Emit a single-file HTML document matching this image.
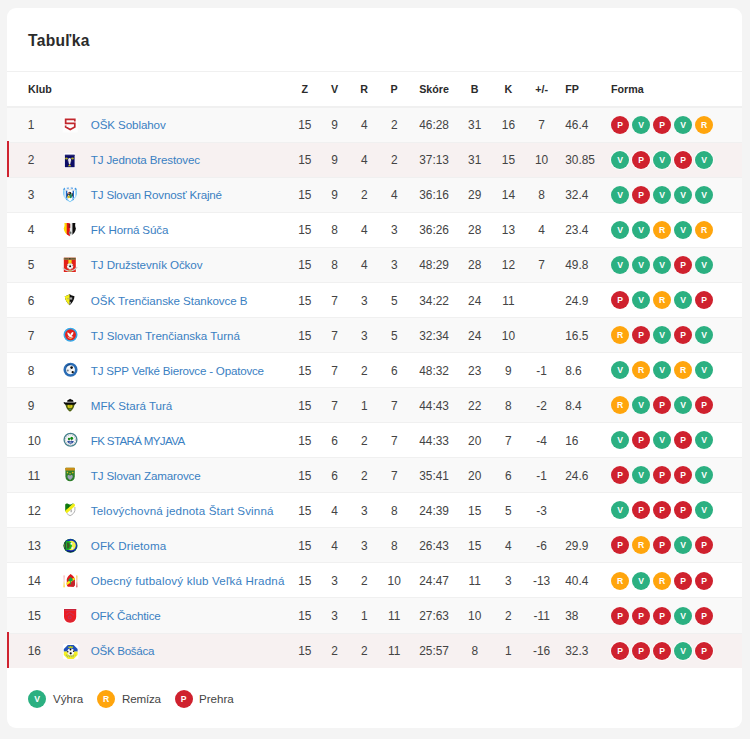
<!DOCTYPE html>
<html lang="sk">
<head>
<meta charset="utf-8">
<title>Tabuľka</title>
<style>
html,body{margin:0;padding:0}
body{width:750px;height:739px;background:#f4f4f4;font-family:"Liberation Sans",sans-serif;color:#444;position:relative;overflow:hidden}
.card{position:absolute;left:7px;top:8px;width:735px;height:720px;background:#fff;border-radius:9px}
.title{position:absolute;left:21px;top:22.6px;margin:0;font-size:15.6px;letter-spacing:.32px;line-height:20px;font-weight:bold;color:#2b2b2b}
.thead{position:absolute;left:0;top:63px;width:735px;height:34px;border-top:1px solid #f0f0f0;border-bottom:1px solid #f0f0f0;font-weight:bold;font-size:10.7px;color:#2b2b2b;box-sizing:content-box}
.thead .c{line-height:35px;top:0}
.row{position:absolute;left:0;width:735px;font-size:11.6px;box-sizing:border-box;border-top:1px solid #f0f0f0}
.row.odd{background:#f9f9f9}
.row.hl{background:#f7f1f1}
.row.hl::before{content:"";position:absolute;left:0;top:-1.5px;bottom:-.6px;width:2px;background:#cf2330}
.row{top:0}
.c{position:absolute;top:0.7px;line-height:34.06px;white-space:nowrap}
.row .z,.row .v,.row .r,.row .p,.row .b,.row .k,.row .pm,.row .sk,.row .fp{font-size:11.9px}
.rank{left:21px}
.row .rank{font-size:11.9px;left:20.7px}
.crest{position:absolute;left:55px;top:9.2px;width:16px;height:16px}
.crest svg{display:block}
.name{left:83.8px;color:#3a80c2;text-decoration:none}
.z,.v,.r,.p,.b,.k,.pm{width:40px;text-align:center}
.z{left:277.8px}.v{left:307.5px}.r{left:337.2px}.p{left:367.2px}
.sk{left:412.2px}
.b{left:447.7px}.k{left:481.4px}.pm{left:514.6px}
.fp{left:558.2px}
.thead .fo{left:604px}
.row .fo{position:absolute;left:604px;top:8.1px;height:18px;white-space:nowrap;font-size:0}
.row.hl .f{box-shadow:0 0 0 1px rgba(255,255,255,.75)}
.f{display:inline-block;width:18px;height:18px;border-radius:50%;margin-right:3px;color:#fff;font-style:normal;font-weight:bold;font-size:8.6px;line-height:18.7px;text-align:center;vertical-align:top}
.f.fv{background:#2bb081}.f.fp2{background:#cf212e}.f.fr{background:#ffa50d}
.legend{position:absolute;left:0;top:680.5px;width:735px;height:20px;font-size:11.6px;line-height:20px}
.legend .f{position:absolute;top:1px;margin:0}
.legend span{position:absolute;top:0}
.legend .f.fv{left:21px}.legend .l1{left:46px}
.legend .f.fr{left:90px}.legend .l2{left:115px;letter-spacing:-.2px}
.legend .f.fp2{left:167.6px}.legend .l3{left:192px}
</style>
</head>
<body>
<div class="card">
<h2 class="title">Tabuľka</h2>
<div class="thead"><span class="c rank">Klub</span><span class="c z">Z</span><span class="c v">V</span><span class="c r">R</span><span class="c p">P</span><span class="c sk">Skóre</span><span class="c b">B</span><span class="c k">K</span><span class="c pm">+/-</span><span class="c fp">FP</span><span class="c fo">Forma</span></div>
<div class="row odd" style="top:98.50px;height:35.07px"><span class="c rank">1</span><span class="crest"><svg viewBox="0 0 16 16" width="16" height="16" overflow="visible"><rect x=".6" y=".3" width="15.2" height="15.2" fill="#fdfdfd"/><path d="M12.8 4.5V2.35H3.65V6.4H12.8V10.1L8.2 12.5L3.65 10.1V8.5" fill="none" stroke="#c1272d" stroke-width="1.7"/></svg></span><a class="c name" style="letter-spacing:-0.1px">OŠK Soblahov</a><span class="c z">15</span><span class="c v">9</span><span class="c r">4</span><span class="c p">2</span><span class="c sk">46:28</span><span class="c b">31</span><span class="c k">16</span><span class="c pm">7</span><span class="c fp">46.4</span><span class="fo"><i class="f fp2">P</i><i class="f fv">V</i><i class="f fp2">P</i><i class="f fv">V</i><i class="f fr">R</i></span></div>
<div class="row hl" style="top:133.57px;height:35.07px"><span class="c rank">2</span><span class="crest"><svg viewBox="0 0 16 16" width="16" height="16" overflow="visible"><rect x="2.2" y="1.1" width="10.8" height="14.9" fill="#fff"/><rect x="2.9" y="2.8" width="9.7" height="12.4" fill="#0c0c66"/><rect x="2.9" y="2.8" width="9.7" height="1" fill="#2a2a78"/><ellipse cx="4.5" cy="6.6" rx="1.4" ry="1" fill="#b4b022"/><ellipse cx="10.5" cy="6.6" rx="1.4" ry="1" fill="#b4b022"/><path d="M7.6 6C9 6 9.4 7.6 8.9 9.2L8.2 12.3H7L6.3 9.2C5.8 7.6 6.2 6 7.6 6Z" fill="#e6e6ec"/><path d="M5 8.4L6.4 9.6M10.2 8.4L8.8 9.6" stroke="#6a6a4a" stroke-width=".5"/><path d="M7.6 12.2L9.3 14.3H5.9Z" fill="#cfc91c"/></svg></span><a class="c name" style="letter-spacing:-0.15px">TJ Jednota Brestovec</a><span class="c z">15</span><span class="c v">9</span><span class="c r">4</span><span class="c p">2</span><span class="c sk">37:13</span><span class="c b">31</span><span class="c k">15</span><span class="c pm">10</span><span class="c fp">30.85</span><span class="fo"><i class="f fv">V</i><i class="f fp2">P</i><i class="f fv">V</i><i class="f fp2">P</i><i class="f fv">V</i></span></div>
<div class="row odd" style="top:168.64px;height:35.07px"><span class="c rank">3</span><span class="crest"><svg viewBox="0 0 16 16" width="16" height="16" overflow="visible"><defs><clipPath id="c3"><path d="M2.2 0.6H13.8C14.8 2.4 15.2 5 14.8 7.6C14.2 11 11.8 13.8 8 15.2C4.2 13.8 1.8 11 1.2 7.6C0.8 5 1.2 2.4 2.2 0.6Z"/></clipPath></defs><g clip-path="url(#c3)"><rect width="16" height="16" fill="#fff"/><rect x="1" y="0" width="1.6" height="16" fill="#7ecbf4"/><rect x="13.4" y="0" width="1.6" height="16" fill="#7ecbf4"/><rect x="3.8" y="3.6" width="1.5" height="12" fill="#1b63c8"/><rect x="10.6" y="3.6" width="1.4" height="12" fill="#1b63c8"/><path d="M1 2.6C5 0.2 11 0.2 15 2.6" fill="none" stroke="#3d8fe0" stroke-width="1.4" stroke-dasharray="2.4 1.6"/><path d="M3 3.4C6 2.4 10 2.4 13 3.4" fill="none" stroke="#c8c8c8" stroke-width=".7"/><path d="M3.4 10.5L8 15.4L12.6 10.5" fill="none" stroke="#7ecbf4" stroke-width="1.2"/></g><ellipse cx="7.7" cy="6.6" rx="1.7" ry="1.9" fill="#1c1c1c"/><circle cx="6.8" cy="6.2" r=".9" fill="#e48a7a"/><ellipse cx="8.6" cy="9" rx="1.4" ry="2.2" fill="#1f8a5c"/><circle cx="6.6" cy="10" r="1.3" fill="#dcc01e"/><rect x="5.2" y="6.4" width=".9" height="3" fill="#222"/><rect x="9.9" y="6.2" width=".9" height="3.2" fill="#222"/></svg></span><a class="c name" style="letter-spacing:-0.17px">TJ Slovan Rovnosť Krajné</a><span class="c z">15</span><span class="c v">9</span><span class="c r">2</span><span class="c p">4</span><span class="c sk">36:16</span><span class="c b">29</span><span class="c k">14</span><span class="c pm">8</span><span class="c fp">32.4</span><span class="fo"><i class="f fv">V</i><i class="f fp2">P</i><i class="f fv">V</i><i class="f fv">V</i><i class="f fv">V</i></span></div>
<div class="row" style="top:203.71px;height:35.07px"><span class="c rank">4</span><span class="crest"><svg viewBox="0 0 16 16" width="16" height="16" overflow="visible"><defs><clipPath id="c4"><path d="M2.4 1L5.6 0.9L8.2 1.3L10.6 0.9L13.4 1.1C13 3 13 4.4 13.9 6.4C13.6 9.6 11.6 12.4 7.8 14.2C4 12.4 2 9.6 1.7 6.4C2.6 4.4 2.7 3 2.4 1Z"/></clipPath></defs><g clip-path="url(#c4)"><rect width="16" height="16" fill="#fff"/><rect x="0" y="0" width="4.6" height="16" fill="#ffd900"/><rect x="4.2" y="0" width="1" height="16" fill="#f58a00"/><rect x="5" y="0" width="2.9" height="16" fill="#e01212"/><rect x="7.9" y="0" width="2.5" height="16" fill="#e4e4e4"/><rect x="10.4" y="0" width="4" height="16" fill="#0c0c0c"/><rect x="6.6" y="2" width="1.6" height="4" fill="#8c1c1c"/><circle cx="8.2" cy="10.8" r="1.5" fill="#8c9490"/><circle cx="8.2" cy="10.8" r=".7" fill="#555"/></g></svg></span><a class="c name" style="letter-spacing:-0.14px">FK Horná Súča</a><span class="c z">15</span><span class="c v">8</span><span class="c r">4</span><span class="c p">3</span><span class="c sk">36:26</span><span class="c b">28</span><span class="c k">13</span><span class="c pm">4</span><span class="c fp">23.4</span><span class="fo"><i class="f fv">V</i><i class="f fv">V</i><i class="f fr">R</i><i class="f fv">V</i><i class="f fr">R</i></span></div>
<div class="row odd" style="top:238.78px;height:35.07px"><span class="c rank">5</span><span class="crest"><svg viewBox="0 0 16 16" width="16" height="16" overflow="visible"><rect x="1" y="0" width="14" height="16" fill="#fff"/><rect x="1.8" y="0.7" width="12" height="14.3" fill="#e2211b"/><rect x="1.8" y="0.7" width="12" height="2.1" fill="#9a8a52"/><rect x="2.4" y="1.2" width="4.2" height="1.1" fill="#5e5230"/><rect x="9.2" y="1.2" width="4.2" height="1.1" fill="#5e5230"/><circle cx="7.9" cy="1.8" r=".8" fill="#221a12"/><rect x="6.4" y="3" width="3.2" height="4" fill="#f7d417"/><path d="M0.8 10.6C3 13.2 5.6 14 8 14C10.4 14 13 12.8 15.2 10.2" fill="none" stroke="#cfcfcf" stroke-width="1.3"/><circle cx="8.1" cy="9.3" r="3.1" fill="#f4f4f4"/><circle cx="8.1" cy="9.3" r="1" fill="#0a0a0a"/><path d="M8.1 6.2V7.4M5.2 8.4L6.3 8.8M11 8.4L9.9 8.8M6.3 11.8L7 10.9M9.9 11.8L9.2 10.9" stroke="#666" stroke-width=".6"/><rect x="6.2" y="13.4" width="3.8" height="1.2" fill="#b9a24a"/></svg></span><a class="c name" style="letter-spacing:-0.09px">TJ Družstevník Očkov</a><span class="c z">15</span><span class="c v">8</span><span class="c r">4</span><span class="c p">3</span><span class="c sk">48:29</span><span class="c b">28</span><span class="c k">12</span><span class="c pm">7</span><span class="c fp">49.8</span><span class="fo"><i class="f fv">V</i><i class="f fv">V</i><i class="f fv">V</i><i class="f fp2">P</i><i class="f fv">V</i></span></div>
<div class="row" style="top:273.85px;height:35.07px"><span class="c rank">6</span><span class="crest"><svg viewBox="0 0 16 16" width="16" height="16" overflow="visible"><defs><clipPath id="c6"><path d="M7.6 2L9.2 3.2L12.5 4.2C12.3 7.6 10.6 10.8 7.7 13.2C4.8 10.8 3 7.6 2.8 4.2L6 3.2Z"/></clipPath></defs><g clip-path="url(#c6)"><rect width="16" height="16" fill="#111"/><rect x="0" y="0" width="7.6" height="16" fill="#f4ef18"/><rect x="7.6" y="5.4" width="2.6" height="2.2" fill="#a9a9a9"/><rect x="5" y="6.2" width="2.6" height="1" fill="#b9b560"/><rect x="7.2" y="9.8" width="1.8" height="1.8" fill="#9c9c9c"/></g></svg></span><a class="c name" style="letter-spacing:-0.07px">OŠK Trenčianske Stankovce B</a><span class="c z">15</span><span class="c v">7</span><span class="c r">3</span><span class="c p">5</span><span class="c sk">34:22</span><span class="c b">24</span><span class="c k">11</span><span class="c pm"></span><span class="c fp">24.9</span><span class="fo"><i class="f fp2">P</i><i class="f fv">V</i><i class="f fr">R</i><i class="f fv">V</i><i class="f fp2">P</i></span></div>
<div class="row odd" style="top:308.92px;height:35.07px"><span class="c rank">7</span><span class="crest"><svg viewBox="0 0 16 16" width="16" height="16" overflow="visible"><circle cx="8.5" cy="7.8" r="7.7" fill="#fff"/><circle cx="8.5" cy="7.8" r="6.25" fill="#e2201a" stroke="#37a9e8" stroke-width="1.6"/><g transform="translate(.4 -.1)"><path d="M4.9 5.6C6.2 5.4 7.4 6.6 7.9 8.2C8.2 6.4 9.4 5 10.9 5.2C11.2 6.8 10.3 8.4 9 9.2L11.2 10.1C10.2 11 8.6 10.8 7.6 10.2C6 9.6 5 7.6 4.9 5.6Z" fill="#fafafa"/><path d="M5.4 10.2C6.4 11.2 8 11.6 9.4 11" fill="none" stroke="#f5d6d6" stroke-width=".9"/><circle cx="8.2" cy="11.6" r=".7" fill="#e8c41c"/></g></svg></span><a class="c name" style="letter-spacing:-0.04px">TJ Slovan Trenčianska Turná</a><span class="c z">15</span><span class="c v">7</span><span class="c r">3</span><span class="c p">5</span><span class="c sk">32:34</span><span class="c b">24</span><span class="c k">10</span><span class="c pm"></span><span class="c fp">16.5</span><span class="fo"><i class="f fr">R</i><i class="f fp2">P</i><i class="f fv">V</i><i class="f fp2">P</i><i class="f fv">V</i></span></div>
<div class="row" style="top:343.99px;height:35.07px"><span class="c rank">8</span><span class="crest"><svg viewBox="0 0 16 16" width="16" height="16" overflow="visible"><circle cx="8.5" cy="7.75" r="7.6" fill="#fff"/><circle cx="8.5" cy="7.75" r="5.75" fill="#f6f6f6" stroke="#2a6cb4" stroke-width="2.6"/><g transform="translate(.3 -.1)"><circle cx="9.3" cy="5.7" r="1.3" fill="#0b0b0b"/><circle cx="10.4" cy="10.3" r="1.15" fill="#0b0b0b"/><circle cx="5.5" cy="8.6" r="1" fill="#7d8288"/><path d="M3.9 4.6C5 3.2 6.6 2.6 8 2.6" fill="none" stroke="#123a6e" stroke-width=".9"/><circle cx="8" cy="8" r=".7" fill="#d4d4d4"/></g></svg></span><a class="c name" style="letter-spacing:-0.21px">TJ SPP Veľké Bierovce - Opatovce</a><span class="c z">15</span><span class="c v">7</span><span class="c r">2</span><span class="c p">6</span><span class="c sk">48:32</span><span class="c b">23</span><span class="c k">9</span><span class="c pm">-1</span><span class="c fp">8.6</span><span class="fo"><i class="f fv">V</i><i class="f fr">R</i><i class="f fv">V</i><i class="f fr">R</i><i class="f fv">V</i></span></div>
<div class="row odd" style="top:379.06px;height:35.07px"><span class="c rank">9</span><span class="crest"><svg viewBox="0 0 16 16" width="16" height="16" overflow="visible"><path d="M8 0.4L12.8 2.8L14.8 6.6L12.8 9.4L8 15.8L3.2 9.4L1.2 6.6L3.2 2.8Z" fill="#fff"/><path d="M3.3 6.4H12.7C12.5 9.8 10.8 12.8 8 14.8C5.2 12.8 3.5 9.8 3.3 6.4Z" fill="#4e5e0e"/><path d="M5.6 7.5H10.4V9.8C10.4 10.7 9.3 11.2 8 11.2C6.7 11.2 5.6 10.7 5.6 9.8Z" fill="#dacf1a"/><rect x="7.7" y="7.8" width=".6" height="2.8" fill="#7d7a18"/><rect x="6.8" y="11.8" width="2.4" height=".9" fill="#4f8a6a"/><path d="M5.2 4.7C5 3.3 6.2 2.5 7.2 2.5C7.5 1.6 8.7 1.6 9 2.5C10.4 2.3 11.7 3.3 11.5 4.8Z" fill="#0a0a0a"/><path d="M2 5.1C1.8 6.4 2.7 7.5 4.1 7.6H11.9C13.3 7.5 14.2 6.4 14 5.1C13.7 5.8 12.9 5.8 11.9 5.7H4.1C3.1 5.8 2.3 5.8 2 5.1Z" fill="#0a0a0a" stroke="#0a0a0a" stroke-width=".5"/></svg></span><a class="c name" style="letter-spacing:-0.03px">MFK Stará Turá</a><span class="c z">15</span><span class="c v">7</span><span class="c r">1</span><span class="c p">7</span><span class="c sk">44:43</span><span class="c b">22</span><span class="c k">8</span><span class="c pm">-2</span><span class="c fp">8.4</span><span class="fo"><i class="f fr">R</i><i class="f fv">V</i><i class="f fp2">P</i><i class="f fv">V</i><i class="f fp2">P</i></span></div>
<div class="row" style="top:414.13px;height:35.07px"><span class="c rank">10</span><span class="crest"><svg viewBox="0 0 16 16" width="16" height="16" overflow="visible"><circle cx="8.5" cy="7.8" r="7.6" fill="#fff"/><circle cx="8.5" cy="7.8" r="6.4" fill="#fff" stroke="#447f8b" stroke-width="1.3"/><circle cx="8.5" cy="7.8" r="4.9" fill="none" stroke="#bfc6ca" stroke-width="1.3" stroke-dasharray="1.4 .8"/><circle cx="8.5" cy="7.8" r="4.1" fill="#f3f4fa"/><circle cx="7" cy="7" r="1.15" fill="#148a14"/><ellipse cx="9.7" cy="6.3" rx="1.4" ry="1.6" fill="#0f8a10"/><rect x="6.8" y="7.6" width=".5" height="1.2" fill="#555"/><rect x="9.5" y="7.4" width=".5" height="1.4" fill="#555"/><path d="M5.2 9.1H11.8C11.4 10.9 10.2 11.8 8.5 11.8C6.8 11.8 5.6 10.9 5.2 9.1Z" fill="#2c4c9c"/><rect x="7.3" y="9.7" width="2.2" height=".9" rx=".4" fill="#f0f0f0"/></svg></span><a class="c name" style="letter-spacing:-0.67px">FK STARÁ MYJAVA</a><span class="c z">15</span><span class="c v">6</span><span class="c r">2</span><span class="c p">7</span><span class="c sk">44:33</span><span class="c b">20</span><span class="c k">7</span><span class="c pm">-4</span><span class="c fp">16</span><span class="fo"><i class="f fv">V</i><i class="f fp2">P</i><i class="f fv">V</i><i class="f fp2">P</i><i class="f fv">V</i></span></div>
<div class="row odd" style="top:449.20px;height:35.07px"><span class="c rank">11</span><span class="crest"><svg viewBox="0 0 16 16" width="16" height="16" overflow="visible"><path d="M2.6 0H13.6V9.6C13.6 13 11 15.2 8.1 15.2C5.2 15.2 2.6 13 2.6 9.6Z" fill="#fff"/><path d="M3.4 1.2Q3.4 0.7 3.9 0.7H12.3Q12.8 0.7 12.8 1.2V9.4C12.8 12.2 10.8 14.2 8.1 14.2C5.4 14.2 3.4 12.2 3.4 9.4Z" fill="#2f7e2c"/><path d="M3.4 1.2Q3.4 0.7 3.9 0.7H12.3Q12.8 0.7 12.8 1.2V3.4H3.4Z" fill="#d9991c"/><rect x="3.8" y="1.6" width="8.6" height=".8" fill="#a87410" opacity=".7"/><path d="M8.1 13C6.1 11.7 5.3 10.4 5.5 9.2C5.7 8 7.2 7.7 8.1 8.8C9 7.7 10.5 8 10.7 9.2C10.9 10.4 10.1 11.7 8.1 13Z" fill="#9ca4b9"/><rect x="4.8" y="4.8" width="1.3" height="1.5" fill="#d8c428"/><path d="M9.6 5.6L10.7 4.7L11.8 5.6L10.7 6.5Z" fill="#e8b41c"/><rect x="7.4" y="6" width="1.3" height="1.3" fill="#c9a624"/></svg></span><a class="c name" style="letter-spacing:-0.16px">TJ Slovan Zamarovce</a><span class="c z">15</span><span class="c v">6</span><span class="c r">2</span><span class="c p">7</span><span class="c sk">35:41</span><span class="c b">20</span><span class="c k">6</span><span class="c pm">-1</span><span class="c fp">24.6</span><span class="fo"><i class="f fp2">P</i><i class="f fv">V</i><i class="f fp2">P</i><i class="f fp2">P</i><i class="f fv">V</i></span></div>
<div class="row" style="top:484.27px;height:35.07px"><span class="c rank">12</span><span class="crest"><svg viewBox="0 0 16 16" width="16" height="16" overflow="visible"><defs><clipPath id="c12"><path d="M3.2 2.4C3.8 1.4 5 1.2 6 1.8C7 2.6 8.8 2.6 10 1.9C11 1.3 12.2 1.4 12.9 2.4V8.4C12.6 10.6 10.8 12.5 8.1 13.7C5.4 12.5 3.5 10.6 3.2 8.4Z"/></clipPath></defs><g clip-path="url(#c12)"><rect width="16" height="16" fill="#fdfdfd"/><path d="M0 0H13L2 11V0Z" fill="#0f7c12"/><path d="M6 2.2L7.4 8.6L5.8 7.8Z" fill="#0a4a0c"/><path d="M2.4 9.4L12.4 0.6L14 3.2L4.2 11.8Z" fill="#f3ee12"/><rect x="8.6" y="7.4" width="1.1" height="2.8" fill="#9b9b9b"/></g><path d="M12.9 5V8.4C12.6 10.6 10.8 12.5 8.1 13.7C6.8 13.1 5.6 12.3 4.8 11.3" fill="none" stroke="#a8a8a8" stroke-width=".9"/></svg></span><a class="c name" style="letter-spacing:0.15px">Telovýchovná jednota Štart Svinná</a><span class="c z">15</span><span class="c v">4</span><span class="c r">3</span><span class="c p">8</span><span class="c sk">24:39</span><span class="c b">15</span><span class="c k">5</span><span class="c pm">-3</span><span class="c fp"></span><span class="fo"><i class="f fv">V</i><i class="f fp2">P</i><i class="f fp2">P</i><i class="f fp2">P</i><i class="f fv">V</i></span></div>
<div class="row odd" style="top:519.34px;height:35.07px"><span class="c rank">13</span><span class="crest"><svg viewBox="0 0 16 16" width="16" height="16" overflow="visible"><circle cx="8.5" cy="7.7" r="7.7" fill="#fff"/><circle cx="8.5" cy="7.7" r="7.05" fill="#0c7a1a"/><circle cx="8.5" cy="7.7" r="6.6" fill="#1230b8"/><path d="M4 2.6A6.8 6.8 0 0 0 4 12.8Z" fill="#1c5a3a"/><path d="M2.2 5.8C1.9 7 1.9 8.4 2.2 9.6L3 9.4V6Z" fill="#5c7a2a"/><circle cx="9" cy="7.5" r="4.8" fill="#f0f048"/><path d="M4.1 3.1H6C8.6 3.1 9.9 5.2 9.9 7.5C9.9 9.8 8.6 11.9 6 11.9H4.1Z" fill="#18b024"/><path d="M5 4.6H5.8C7.1 4.6 7.7 6 7.7 7.5C7.7 9 7.1 10.4 5.8 10.4H5Z" fill="#3f5a26"/><circle cx="9.4" cy="5.7" r="1" fill="#f4f4ff"/><circle cx="10.4" cy="9.9" r="1" fill="#eeeeff"/><path d="M4.6 12.2C6.8 13.4 10.2 13.4 12.4 12.2L11.6 13.4C9.8 14.4 7.2 14.4 5.4 13.4Z" fill="#0c1a6a"/></svg></span><a class="c name" style="letter-spacing:0.11px">OFK Drietoma</a><span class="c z">15</span><span class="c v">4</span><span class="c r">3</span><span class="c p">8</span><span class="c sk">26:43</span><span class="c b">15</span><span class="c k">4</span><span class="c pm">-6</span><span class="c fp">29.9</span><span class="fo"><i class="f fp2">P</i><i class="f fr">R</i><i class="f fp2">P</i><i class="f fv">V</i><i class="f fp2">P</i></span></div>
<div class="row" style="top:554.41px;height:35.07px"><span class="c rank">14</span><span class="crest"><svg viewBox="0 0 16 16" width="16" height="16" overflow="visible"><defs><linearGradient id="g14a" x1="0" y1="0" x2="0" y2="1"><stop offset="0" stop-color="#f4bcbc"/><stop offset=".45" stop-color="#fbe4e4"/><stop offset="1" stop-color="#f8e23c"/></linearGradient><linearGradient id="g14b" x1="0" y1="0" x2="0" y2="1"><stop offset="0" stop-color="#fadc6a"/><stop offset=".5" stop-color="#f8d4c8"/><stop offset="1" stop-color="#dc6068"/></linearGradient><clipPath id="c14"><path d="M8.6 1.4C10.4 2.5 12 4 12.7 6C13.2 7.6 12.4 8.6 12.8 10C13.2 11.6 12.8 13.2 11.8 14.2H5.8C4.8 13.2 4.5 11.6 4.8 10C5 8.6 4.4 7.6 5 6C5.6 4 7 2.5 8.6 1.4Z"/></clipPath></defs><g transform="translate(0 -.4)"><rect x="1.3" y="2.6" width="1.6" height="12.4" rx=".8" fill="url(#g14a)"/><rect x="14" y="2.6" width="1.6" height="12.4" rx=".8" fill="url(#g14b)"/><g clip-path="url(#c14)"><rect width="16" height="16" fill="#e0181c"/><path d="M3.6 10.4L13.6 4L14.2 6.2L4.4 12.8Z" fill="#fbe812"/><path d="M9.8 8.8L13 7.2V14.2H9.4Z" fill="#c4242c"/></g><path d="M8.7 4.6C9.6 4.6 10 5.4 9.8 6.1C10.8 6.2 11.2 7.4 10.6 8.1C10 8.7 9.4 8.6 9.1 8.4V11.8H8.2V8.4C7.8 8.7 7 8.7 6.6 8.1C6.1 7.4 6.6 6.2 7.6 6.1C7.4 5.4 7.8 4.6 8.7 4.6Z" fill="#16a24a"/></g></svg></span><a class="c name" style="letter-spacing:0.18px">Obecný futbalový klub Veľká Hradná</a><span class="c z">15</span><span class="c v">3</span><span class="c r">2</span><span class="c p">10</span><span class="c sk">24:47</span><span class="c b">11</span><span class="c k">3</span><span class="c pm">-13</span><span class="c fp">40.4</span><span class="fo"><i class="f fr">R</i><i class="f fv">V</i><i class="f fr">R</i><i class="f fp2">P</i><i class="f fp2">P</i></span></div>
<div class="row odd" style="top:589.48px;height:35.07px"><span class="c rank">15</span><span class="crest"><svg viewBox="0 0 16 16" width="16" height="16" overflow="visible"><path d="M1.2 .4H15V9.2C15 13 11.8 15.6 8.1 15.6C4.4 15.6 1.2 13 1.2 9.2Z" fill="#fff"/><path d="M2 1.1H14.2V8.6C14.2 12 11.6 14.8 8.1 14.8C4.6 14.8 2 12 2 8.6Z" fill="#ea1c25"/><rect x="2" y="1.1" width="12.2" height="1" fill="#c4243c"/><rect x="3" y="2.4" width="10.2" height=".6" fill="#c84a6a" opacity=".8"/><path d="M4.2 6.4C5.6 6.2 6.6 5.4 7.2 4.4C7.6 5.2 8.4 5.2 9 4.8C9.8 6 11 6.8 12 7.2" fill="none" stroke="#b04a78" stroke-width=".8" opacity=".8"/><circle cx="7.8" cy="9.4" r="1.5" fill="none" stroke="#a04a88" stroke-width=".7" opacity=".8"/><path d="M3.8 11.8C5.4 13.6 10.6 13.8 12.4 11.8" fill="none" stroke="#c03a4a" stroke-width=".8" opacity=".7"/></svg></span><a class="c name" style="letter-spacing:-0.2px">OFK Čachtice</a><span class="c z">15</span><span class="c v">3</span><span class="c r">1</span><span class="c p">11</span><span class="c sk">27:63</span><span class="c b">10</span><span class="c k">2</span><span class="c pm">-11</span><span class="c fp">38</span><span class="fo"><i class="f fp2">P</i><i class="f fp2">P</i><i class="f fp2">P</i><i class="f fv">V</i><i class="f fp2">P</i></span></div>
<div class="row hl" style="top:624.55px;height:35.07px"><span class="c rank">16</span><span class="crest"><svg viewBox="0 0 16 16" width="16" height="16" overflow="visible"><rect x="1" y=".9" width="15.4" height="15.4" rx="1.5" fill="#fff"/><defs><clipPath id="c16"><path d="M5.8 1.9H11.6L15.6 5.9V11.9L11.6 15.9H5.8L1.8 11.9V5.9Z"/></clipPath></defs><g clip-path="url(#c16)"><rect x="0" y="0" width="16" height="8.6" fill="#2152b8"/><rect x="0" y="8.6" width="16" height="8" fill="#f5ef24"/><path d="M6.4 3.2L7.5 3.8L8.6 2.7L9.8 3.8L10.9 3.2V4.9H6.4Z" fill="#b9c920"/><path d="M4 12.2H13.4M5.2 13.7H12.2" stroke="#4c86a8" stroke-width=".8" stroke-dasharray=".9 .9"/></g><circle cx="8.7" cy="8.9" r="3.4" fill="#f6f6f6"/><circle cx="8.5" cy="6.5" r=".9" fill="#0a0a0a"/><circle cx="8.7" cy="10.3" r="1.1" fill="#0a0a0a"/><circle cx="5.8" cy="8.8" r=".7" fill="#0a0a0a"/><circle cx="11.6" cy="8.3" r=".7" fill="#0a0a0a"/></svg></span><a class="c name" style="letter-spacing:-0.31px">OŠK Bošáca</a><span class="c z">15</span><span class="c v">2</span><span class="c r">2</span><span class="c p">11</span><span class="c sk">25:57</span><span class="c b">8</span><span class="c k">1</span><span class="c pm">-16</span><span class="c fp">32.3</span><span class="fo"><i class="f fp2">P</i><i class="f fp2">P</i><i class="f fp2">P</i><i class="f fv">V</i><i class="f fp2">P</i></span></div>
<div class="legend"><i class="f fv">V</i><span class="l1">Výhra</span><i class="f fr">R</i><span class="l2">Remíza</span><i class="f fp2">P</i><span class="l3">Prehra</span></div>
</div>
</body>
</html>
